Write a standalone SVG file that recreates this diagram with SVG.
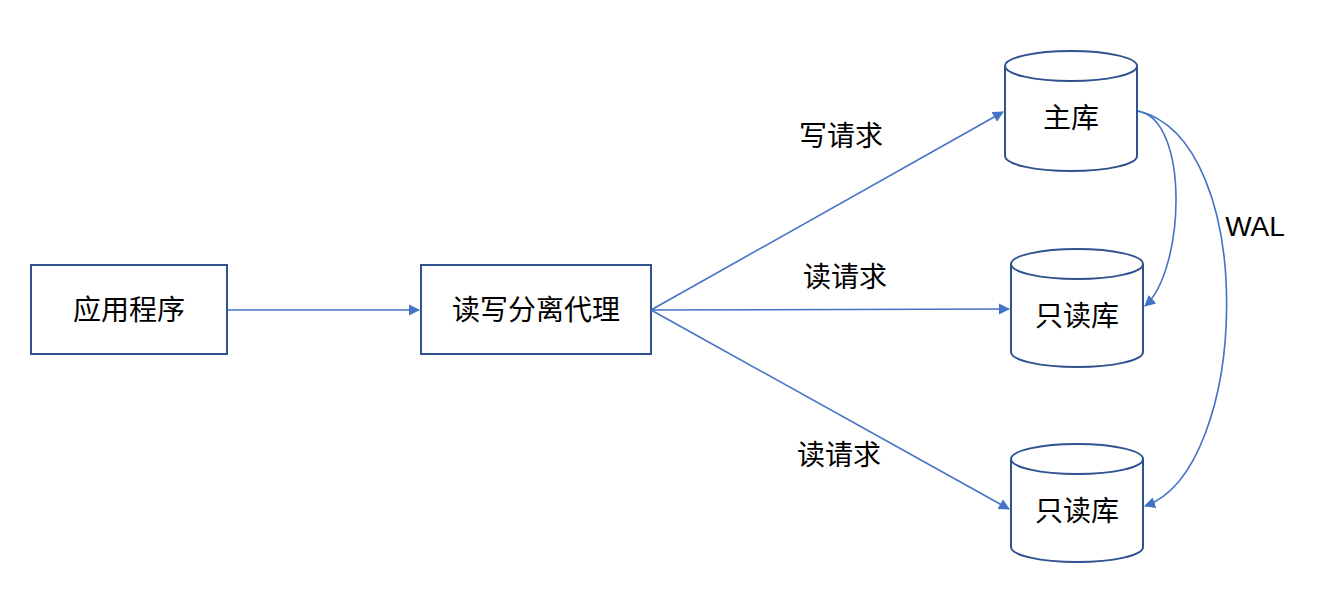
<svg xmlns="http://www.w3.org/2000/svg" width="1336" height="596" viewBox="0 0 1336 596">
<style>
.box{fill:#fff;stroke:#2F528F;stroke-width:2}
.t{font-family:"Liberation Sans","Noto Sans CJK SC",sans-serif;font-size:28px;fill:#000;text-anchor:middle;dominant-baseline:central}
.c{fill:none;stroke:#4472C4;stroke-width:1.6}
</style>
<defs><marker id="a" viewBox="0 0 10 10" refX="9" refY="5" markerWidth="7" markerHeight="7" orient="auto"><path d="M0,0L10,5L0,10z" fill="#4472C4"/></marker></defs>
<rect width="1336" height="596" fill="#fff"/>
<g id="app"><rect class="box" x="31" y="265" width="196" height="89"/><text class="t" x="129" y="310">应用程序</text></g>
<g id="proxy"><rect class="box" x="421" y="265" width="230" height="89"/><text class="t" x="536" y="310">读写分离代理</text></g>
<g id="master"><path class="box" d="M1005,66 V156 A66,15 0 0 0 1137,156 V66 A66,15 0 0 0 1005,66 A66,15 0 0 0 1137,66"/><text class="t" x="1071" y="118">主库</text></g>
<g id="ro1"><path class="box" d="M1011,264 V352 A66,15 0 0 0 1143,352 V264 A66,15 0 0 0 1011,264 A66,15 0 0 0 1143,264"/><text class="t" x="1077" y="316">只读库</text></g>
<g id="ro2"><path class="box" d="M1011,459 V547 A66,15 0 0 0 1143,547 V459 A66,15 0 0 0 1011,459 A66,15 0 0 0 1143,459"/><text class="t" x="1077" y="511">只读库</text></g>
<g id="connectors">
<line class="c" x1="227" y1="310" x2="419" y2="310" marker-end="url(#a)"/>
<line class="c" x1="651" y1="310" x2="1003" y2="112" marker-end="url(#a)"/>
<line class="c" x1="651" y1="310" x2="1009" y2="309" marker-end="url(#a)"/>
<line class="c" x1="651" y1="310" x2="1009" y2="509" marker-end="url(#a)"/>
<path class="c" d="M1138,111 C1190,120 1185,270 1145,306" marker-end="url(#a)"/>
<path class="c" d="M1138,111 C1260,140 1250,470 1145,506" marker-end="url(#a)"/>
</g>
<text class="t" x="841" y="136">写请求</text>
<text class="t" x="845" y="277">读请求</text>
<text class="t" x="839" y="455">读请求</text>
<text class="t" x="1255" y="226">WAL</text>
</svg>
